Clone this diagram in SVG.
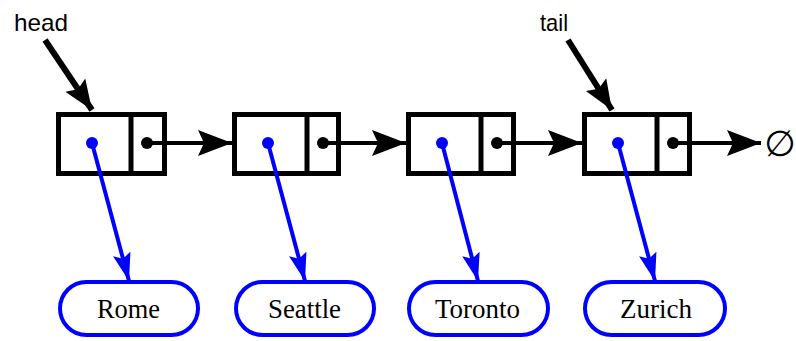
<svg xmlns="http://www.w3.org/2000/svg" width="796" height="341" viewBox="0 0 796 341">
<style>
.box{fill:#fff;stroke:#000;stroke-width:5}
.div{stroke:#000;stroke-width:5}
.dot{fill:#000}
.bdot{fill:#00f}
.link{stroke:#000;stroke-width:4;fill:none}
.ref{stroke:#00f;stroke-width:4;fill:none}
.ptr{stroke:#000;stroke-width:6;fill:none}
.oval{fill:#fff;stroke:#00f;stroke-width:4}
.lbl{font-family:"Liberation Sans",Arial,sans-serif;font-size:24px;fill:#000}
.city{font-family:"Liberation Serif","Times New Roman",serif;font-size:28px;fill:#000}
</style>
<defs>
<marker id="ah" markerUnits="userSpaceOnUse" markerWidth="36" markerHeight="30" refX="34" refY="14" orient="auto">
<path d="M0,1 L34,14 L0,27 L6,14 Z" fill="#000"/>
</marker>
<marker id="bh" markerUnits="userSpaceOnUse" markerWidth="30" markerHeight="22" refX="28" refY="10" orient="auto">
<path d="M0,1 L28,10 L0,19 L5,10 Z" fill="#00f"/>
</marker>
<marker id="ph" markerUnits="userSpaceOnUse" markerWidth="32" markerHeight="28" refX="30" refY="13" orient="auto">
<path d="M0,1 L30,13 L0,25 L5,13 Z" fill="#000"/>
</marker>
</defs>

<g id="head"><text class="lbl" x="14" y="31" textLength="54" lengthAdjust="spacingAndGlyphs">head</text></g>
<g id="tail"><text class="lbl" x="540" y="31" textLength="28" lengthAdjust="spacingAndGlyphs">tail</text></g>

<g id="node1">
<rect class="box" x="58.5" y="114.5" width="106" height="59"/>
<line class="div" x1="131" y1="114" x2="131" y2="174"/>
</g>
<g id="node2">
<rect class="box" x="234.5" y="114.5" width="104" height="59"/>
<line class="div" x1="307" y1="114" x2="307" y2="174"/>
</g>
<g id="node3">
<rect class="box" x="408.5" y="114.5" width="105" height="59"/>
<line class="div" x1="481" y1="114" x2="481" y2="174"/>
</g>
<g id="node4">
<rect class="box" x="584.5" y="114.5" width="105" height="59"/>
<line class="div" x1="657" y1="114" x2="657" y2="174"/>
</g>
<g id="null"><text x="780" y="156" font-family="DejaVu Sans, sans-serif" font-size="36" text-anchor="middle" fill="#000">∅</text></g>

<g id="rome"><rect class="oval" x="60" y="282" width="138" height="53" rx="26.5"/><text class="city" x="97" y="318" textLength="63" lengthAdjust="spacingAndGlyphs">Rome</text></g>
<g id="seattle"><rect class="oval" x="236" y="282" width="138" height="53" rx="26.5"/><text class="city" x="268" y="318" textLength="73" lengthAdjust="spacingAndGlyphs">Seattle</text></g>
<g id="toronto"><rect class="oval" x="409" y="282" width="139" height="53" rx="26.5"/><text class="city" x="435" y="318" textLength="85" lengthAdjust="spacingAndGlyphs">Toronto</text></g>
<g id="zurich"><rect class="oval" x="585" y="282" width="140" height="53" rx="26.5"/><text class="city" x="620" y="318" textLength="72" lengthAdjust="spacingAndGlyphs">Zurich</text></g>

<g id="connectors">
<line class="ptr" x1="45" y1="40" x2="92" y2="110" marker-end="url(#ph)"/>
<line class="ptr" x1="568" y1="40" x2="612" y2="110" marker-end="url(#ph)"/>
<line class="link" x1="147" y1="143" x2="232" y2="143" marker-end="url(#ah)"/>
<line class="link" x1="323" y1="143" x2="406" y2="143" marker-end="url(#ah)"/>
<line class="link" x1="497" y1="143" x2="582" y2="143" marker-end="url(#ah)"/>
<line class="link" x1="673" y1="143" x2="761" y2="143" marker-end="url(#ah)"/>
<circle class="dot" cx="147" cy="143" r="6"/>
<circle class="dot" cx="323" cy="143" r="6"/>
<circle class="dot" cx="497" cy="143" r="6"/>
<circle class="dot" cx="673" cy="143" r="6"/>
<line class="ref" x1="92" y1="143" x2="129" y2="281" marker-end="url(#bh)"/>
<line class="ref" x1="268" y1="143" x2="305" y2="281" marker-end="url(#bh)"/>
<line class="ref" x1="442" y1="143" x2="478" y2="281" marker-end="url(#bh)"/>
<line class="ref" x1="618" y1="143" x2="655" y2="281" marker-end="url(#bh)"/>
<circle class="bdot" cx="92" cy="143" r="6"/>
<circle class="bdot" cx="268" cy="143" r="6"/>
<circle class="bdot" cx="442" cy="143" r="6"/>
<circle class="bdot" cx="618" cy="143" r="6"/>
</g>
</svg>
